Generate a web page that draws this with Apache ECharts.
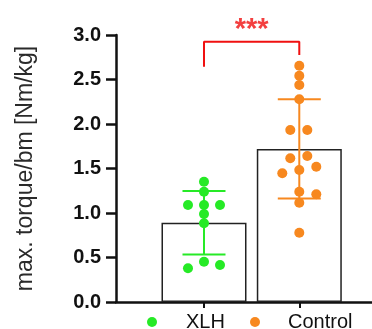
<!DOCTYPE html>
<html><head><meta charset="utf-8">
<script src="https://cdn.jsdelivr.net/npm/echarts@6/dist/echarts.min.js"></script>
<style>html,body{margin:0;padding:0;background:#fff}#c{width:372px;height:329px}</style>
</head><body><div id="c"></div>
<script>
const categories = ['XLH', 'Control'];
const groupPositions = [1, 2];
const barMeans = [0.89, 1.72];
const barSDs = [0.356, 0.557];
const xlhValues = [1.352, 1.239, 1.090, 1.090, 1.090, 0.989, 0.884, 0.453, 0.379, 0.416];
const controlValues = [2.655, 2.543, 2.438, 2.278, 1.933, 1.933, 1.615, 1.640, 1.520, 1.446, 1.483, 1.239, 1.210, 1.116, 0.779];
const yTicks = [0, 0.5, 1.0, 1.5, 2.0, 2.5, 3.0];
const significance = '***';
const bracketLeftY = 2.644, bracketTopY = 2.925, bracketRightY = 2.775;

// beeswarm horizontal spread (px)
const xlhJitter = [0, 0, -16, 0, 16, 0, 0, 0, -16, 16];
const controlJitter = [0, 0, 0, 0, -9, 8, -9, 8, 17, -17, 0, 0, 17, 0, 0];

const FONT = "'Liberation Sans', Arial, sans-serif";
const GREEN = '#26ea26', ORANGE = '#f7881f', RED = '#f01010';

const chart = echarts.init(document.getElementById('c'), null, {renderer: 'canvas'});
function pts(pos, vals, jit) {
  return vals.map((v, i) => ({value: [pos, v], symbolOffset: [jit[i], 0]}));
}
function legendFor(name, left, gap) {
  return {
    data: [name], left: left, top: 312, padding: 0,
    itemWidth: 10, itemHeight: 10, icon: 'circle',
    textStyle: {fontSize: 20, color: '#111', fontFamily: FONT, padding: [0, 0, 0, gap]}
  };
}
chart.setOption({
  animation: false,
  backgroundColor: '#fff',
  grid: {left: 116, right: 0, top: 35, bottom: 27},
  legend: [legendFor(categories[0], 147, 24), legendFor(categories[1], 250, 23)],
  xAxis: {
    type: 'value', min: 0.0766, max: 2.763,
    axisLine: {lineStyle: {color: '#111', width: 2.5}},
    axisTick: {show: true, length: 6, customValues: groupPositions, lineStyle: {color: '#111', width: 2}},
    axisLabel: {show: false},
    splitLine: {show: false}
  },
  yAxis: {
    type: 'value', min: 0, max: 3, interval: 0.5,
    name: 'max. torque/bm [Nm/kg]', nameLocation: 'middle', nameRotate: 90, nameGap: 79,
    nameTextStyle: {fontSize: 23, color: '#2a2a2a', fontFamily: FONT},
    axisLine: {show: true, lineStyle: {color: '#111', width: 2.5}},
    axisTick: {show: true, length: 10, lineStyle: {color: '#111', width: 2.5}},
    axisLabel: {margin: 15, fontSize: 20, fontWeight: 'bold', color: '#111', fontFamily: FONT,
      formatter: v => yTicks.includes(v) ? v.toFixed(1) : ''},
    splitLine: {show: false}
  },
  series: [
    {type: 'bar', barWidth: 85, z: 1,
     data: groupPositions.map((p, i) => [p, barMeans[i]]),
     itemStyle: {color: '#fff', borderColor: '#222', borderWidth: 1.5}},
    {type: 'custom', z: 3,
     data: groupPositions.map((p, i) => [p, barMeans[i], barSDs[i], i]),
     renderItem: function (params, api) {
       const x = api.value(0), m = api.value(1), sd = api.value(2), g = api.value(3);
       const top = api.coord([x, m + sd]), bot = api.coord([x, m - sd]);
       const hw = 21.5, col = g === 0 ? GREEN : ORANGE;
       const st = {stroke: col, lineWidth: 2};
       return {type: 'group', children: [
         {type: 'line', shape: {x1: top[0], y1: top[1], x2: bot[0], y2: bot[1]}, style: st},
         {type: 'line', shape: {x1: top[0] - hw, y1: top[1], x2: top[0] + hw, y2: top[1]}, style: st},
         {type: 'line', shape: {x1: bot[0] - hw, y1: bot[1], x2: bot[0] + hw, y2: bot[1]}, style: st}
       ]};
     }},
    {name: 'XLH', type: 'scatter', z: 4, symbol: 'circle', symbolSize: 10,
     itemStyle: {color: GREEN, opacity: 1}, data: pts(groupPositions[0], xlhValues, xlhJitter)},
    {name: 'Control', type: 'scatter', z: 4, symbol: 'circle', symbolSize: 10,
     itemStyle: {color: ORANGE, opacity: 1}, data: pts(groupPositions[1], controlValues, controlJitter)},
    {type: 'line', z: 5, clip: false, symbol: 'none', silent: true,
     lineStyle: {color: RED, width: 2},
     data: [[groupPositions[0], bracketLeftY], [groupPositions[0], bracketTopY],
            [groupPositions[1], bracketTopY], [groupPositions[1], bracketRightY]]},
    {type: 'scatter', z: 5, clip: false, symbolSize: 0, silent: true,
     data: [[(groupPositions[0] + groupPositions[1]) / 2, 3.06]],
     label: {show: true, position: 'inside', formatter: significance,
       fontSize: 29, fontWeight: 'bold', color: RED, fontFamily: FONT}}
  ]
});
</script></body></html>
